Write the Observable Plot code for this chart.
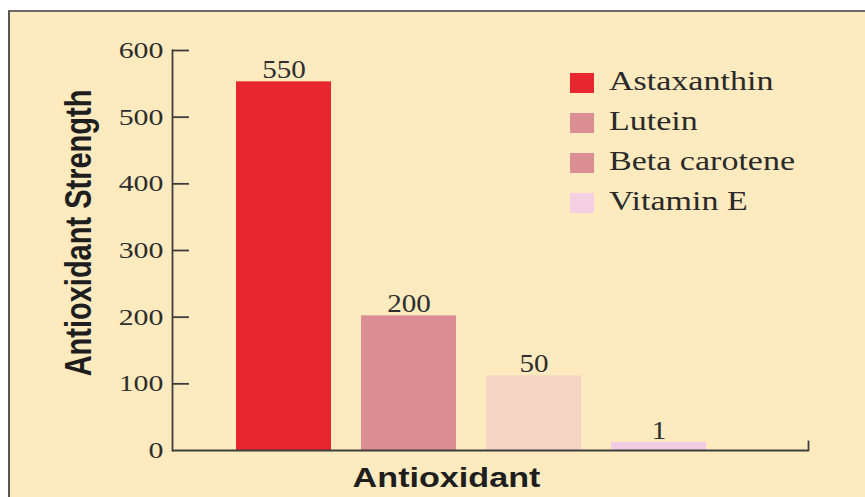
<!DOCTYPE html>
<html>
<head>
<meta charset="utf-8">
<script src="https://cdn.jsdelivr.net/npm/d3@7"></script>
<script src="https://cdn.jsdelivr.net/npm/@observablehq/plot@0.6"></script>
<style>
  html, body { margin: 0; padding: 0; background: #ffffff; }
  #wrap { position: relative; width: 865px; height: 497px; overflow: hidden; }
  #panel { position: absolute; left: 8px; top: 10px; right: 0; bottom: 0;
           background: #FDEBBF; border-left: 2px solid #555; border-top: 2px solid #6a6a6a; }
  #chart { position: absolute; left: 0; top: 0; }
  #legend { position: absolute; left: 570px; top: 73px; }
  .item { position: absolute; left: 0; width: 300px; height: 20px; }
  .sw { position: absolute; left: 0; top: 0; width: 24px; height: 20px; }
  .lab { position: absolute; left: 39px; top: -5px; font-family: "Liberation Serif", serif;
         font-size: 27px; line-height: 27px; color: #2a2a2a; white-space: nowrap;
         transform: scaleX(1.26); transform-origin: left center; }
</style>
</head>
<body>
<div id="wrap">
  <div id="panel"></div>
  <div id="chart"></div>
  <div id="legend"></div>
</div>
<script>
const categories = ["Astaxanthin", "Lutein", "Beta carotene", "Vitamin E"];
const barHeights = [553, 202, 112, 12];
const valueLabels = ["550", "200", "50", "1"];
const barColors = ["#E8262F", "#DB8F95", "#F5D4C4", "#F3CCE3"];
const legendColors = ["#E8262F", "#DB8F95", "#DB8F95", "#F5D0E3"];
const yTicks = [0, 100, 200, 300, 400, 500, 600];
const xTitle = "Antioxidant";
const yTitle = "Antioxidant Strength";

const data = categories.map((name, i) => ({name, height: barHeights[i], label: valueLabels[i]}));
const axisColor = "#3d3d3d";

const plot = Plot.plot({
  width: 865,
  height: 497,
  marginLeft: 172,
  marginRight: 57,
  marginTop: 50,
  marginBottom: 47,
  style: {background: "transparent", overflow: "visible"},
  x: {domain: categories, range: [220.5, 720.5], paddingInner: 0.24, paddingOuter: 0.12, axis: null},
  y: {domain: [0, 600], axis: null},
  color: {domain: categories, range: barColors},
  marks: [
    Plot.barY(data, {x: "name", y: "height", fill: "name"}),
    Plot.text(data, {x: "name", y: "height", text: "label", dy: -4, lineAnchor: "bottom",
      fontSize: 26, fontFamily: "Liberation Serif", fill: "#2e2e2e"}),
    Plot.ruleY(yTicks.filter(d => d > 0), {y: d => d, insetRight: 619, stroke: axisColor, strokeWidth: 1.8}),
    Plot.axisY(yTicks, {tickSize: 0, tickPadding: 9, fontSize: 23, fontFamily: "Liberation Serif",
      fill: "#2e2e2e", label: null}),
    Plot.frame({anchor: "left", stroke: axisColor, strokeWidth: 1.8}),
    Plot.frame({anchor: "right", insetTop: 391, stroke: axisColor, strokeWidth: 1.8}),
    Plot.ruleY([0], {stroke: axisColor, strokeWidth: 1.8}),
    Plot.text([xTitle], {frameAnchor: "bottom", lineAnchor: "middle", textAnchor: "middle", dy: 27.5, dx: -44,
      fontSize: 28, fontWeight: "bold", fontFamily: "Liberation Sans", fill: "#1e1e1e"}),
    Plot.text([yTitle], {frameAnchor: "left", lineAnchor: "middle", textAnchor: "middle", rotate: -90,
      dx: -93.5, dy: -17.5, fontSize: 29, fontWeight: "bold", fontFamily: "Liberation Sans", fill: "#1e1e1e"})
  ]
});
document.getElementById("chart").appendChild(plot);

// horizontally stretched lettering as in the reference
function stretch(fontSize, s) {
  plot.querySelectorAll("text").forEach(t => {
    const g = t.closest("[font-size]");
    if (!g || +g.getAttribute("font-size") !== fontSize) return;
    const tr = t.getAttribute("transform");
    if (tr && /^translate\(/.test(tr)) {
      t.setAttribute("transform", tr.replace(/^(translate\([^)]*\))/, `$1 scale(${s},1)`));
    } else {
      const x = +t.getAttribute("x") || 0, y = +t.getAttribute("y") || 0;
      t.removeAttribute("x"); t.removeAttribute("y");
      t.setAttribute("transform", `translate(${x},${y}) scale(${s},1)` + (tr ? " " + tr : ""));
    }
  });
}
stretch(26, 1.12);
stretch(23, 1.3);
stretch(28, 1.22);
stretch(29, 1.3);

// legend
const legend = document.getElementById("legend");
categories.forEach((name, i) => {
  const item = document.createElement("div");
  item.className = "item";
  item.style.top = (i * 40) + "px";
  const sw = document.createElement("div");
  sw.className = "sw";
  sw.style.background = legendColors[i];
  const lab = document.createElement("span");
  lab.className = "lab";
  lab.textContent = name;
  item.appendChild(sw);
  item.appendChild(lab);
  legend.appendChild(item);
});
</script>
</body>
</html>
